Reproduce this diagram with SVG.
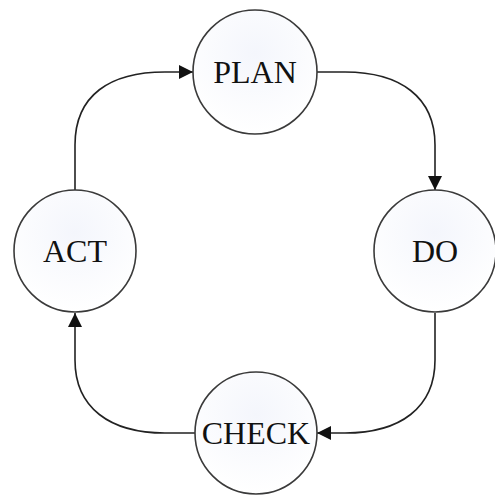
<svg xmlns="http://www.w3.org/2000/svg" width="495" height="495" viewBox="0 0 495 495">
<style>
.node circle{fill:url(#g);stroke:#3a3a3a;stroke-width:1.6}
.node text{font-family:"Liberation Serif","Times New Roman",serif;font-size:32px;fill:#111;text-anchor:middle}
.edges path{fill:none;stroke:#222;stroke-width:1.6;marker-end:url(#arr)}
</style>
<defs>
<radialGradient id="g" cx="0.5" cy="0.35" r="0.65">
<stop offset="0" stop-color="#f4f6fc"/>
<stop offset="1" stop-color="#ffffff"/>
</radialGradient>
<marker id="arr" viewBox="0 0 14 14" refX="14" refY="7" markerWidth="14" markerHeight="14" markerUnits="userSpaceOnUse" orient="auto">
<path d="M0,0 L14,7 L0,14 Z" fill="#111"/>
</marker>
</defs>
<rect width="495" height="495" fill="#fff"/>
<g class="edges">
<path d="M75,190 L75,145 C75,95 110,72 165,72 L193,72"/>
<path d="M317,72 L345,72 C400,72 435,97 435,145 L435,190"/>
<path d="M435,313 L435,360 C435,408 400,433 345,433 L317,433"/>
<path d="M195,433 L165,433 C110,433 75,408 75,360 L75,313"/>
</g>
<g id="plan" class="node"><circle cx="255" cy="72" r="62"/><text x="255" y="83">PLAN</text></g>
<g id="do" class="node"><circle cx="435" cy="251" r="61"/><text x="435" y="262">DO</text></g>
<g id="check" class="node"><circle cx="256" cy="433" r="61"/><text x="256" y="444">CHECK</text></g>
<g id="act" class="node"><circle cx="75" cy="251" r="61"/><text x="75" y="262">ACT</text></g>
</svg>
